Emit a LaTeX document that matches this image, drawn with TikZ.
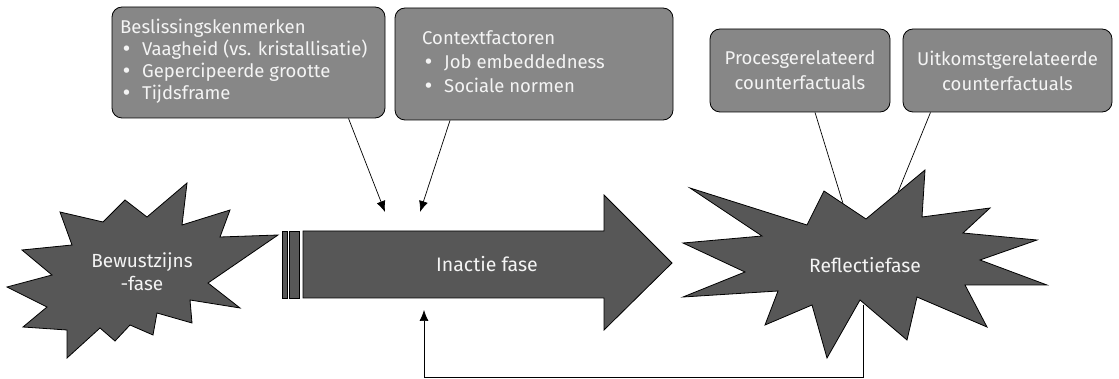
\documentclass[tikz,border=0pt]{standalone}
\usepackage{fontspec}
\setmainfont{Fira Sans}
\newfontfamily\dejavu{DejaVu Sans}
\usetikzlibrary{arrows.meta}
\definecolor{darkfill}{HTML}{575757}
\definecolor{boxgray}{HTML}{878787}
\definecolor{txt}{HTML}{F4F4F4}
\tikzset{
  starshape/.style={fill=darkfill, draw=black, line width=0.8pt, line join=miter},
  box/.style={draw=black, fill=boxgray, rounded corners=10pt, line width=0.8pt, inner sep=0pt},
  lbl/.style={text=txt, inner sep=0pt},
  conn/.style={line width=0.7pt},
  arr/.style={conn, -{Latex[length=11pt,width=9pt]}},
}
\newcommand{\bul}{\hspace*{1pt}\makebox[21pt][l]{\dejavu •}}
\begin{document}
\begin{tikzpicture}[x=1pt, y=-1pt, font=\fontsize{18.5}{22}\selectfont]
\useasboundingbox (0,0) rectangle (1119,379);

% boxes
\node[box, minimum width=273pt, minimum height=111pt] (bk) at (248.5,62.5) {};
\node[lbl, anchor=north west, align=left] (bkt) at (120,19)
  {Beslissingskenmerken\\
   \bul Vaagheid (vs. kristallisatie)\\
   \bul Gepercipeerde grootte\\
   \bul Tijdsframe};

\node[box, minimum width=278pt, minimum height=112pt] (cf) at (534,64) {};
\node[lbl, anchor=north west, align=left, font=\fontsize{18.5}{24}\selectfont] (cft) at (422,30)
  {Contextfactoren\\
   \bul Job embeddedness\\
   \bul Sociale normen};

\node[box, minimum width=180pt, minimum height=83pt] (pc) at (800,70.5) {};
\node[lbl, align=center, font=\fontsize{18.5}{25}\selectfont] (pct) at (800,70.5)
  {Procesgerelateerd\\counterfactuals};

\node[box, minimum width=209pt, minimum height=83pt] (uc) at (1007.5,70.5) {};
\node[lbl, align=center, font=\fontsize{18.5}{25}\selectfont] (uct) at (1007.5,70.5)
  {Uitkomstgerelateerde\\counterfactuals};

% connector end points
\coordinate (a1) at (385,212);
\coordinate (a2) at (420,212);
\coordinate (r1) at (843,203.5);
\coordinate (r2) at (898,192);
\coordinate (fb) at (863,305);
\coordinate (fl) at (424,310);

\draw[arr] ([xshift=100pt]bk.south) -- (a1);
\draw[arr] ([xshift=-84pt]cf.south) -- (a2);
\draw[conn] ([xshift=15pt]pc.south) -- (r1);
\draw[conn] ([xshift=-77pt]uc.south) -- (r2);

% left star
\path[starshape] (7,287) -- (52,275) -- (22,250) -- (72,245) -- (60,212) -- (103,222)
  -- (125,200) -- (147,217) -- (187,183) -- (182,225) -- (230,210) -- (220,237)
  -- (278,235) -- (208,283) -- (240,308) -- (190,300) -- (192,323) -- (157,313)
  -- (153,335) -- (130,325) -- (115,341) -- (100,328) -- (67,358) -- (67,330)
  -- (23,327) -- (47,307) -- cycle;
\node[lbl, align=center, font=\fontsize{19}{23}\selectfont] (bw) at (142,272) {Bewustzijns\\-fase};

% right star
\path[starshape] (690,188) -- (807,225) -- (824,191) -- (866,219) -- (925,170)
  -- (922,217) -- (990,208) -- (963,233) -- (1037,240) -- (980,260) -- (1047,285)
  -- (965,285) -- (987,327) -- (917,297) -- (907,340) -- (860,300) -- (827,358)
  -- (812,305) -- (765,325) -- (778,291) -- (683,297) -- (745,272) -- (683,243)
  -- (762,236) -- cycle;
\node[lbl, font=\fontsize{19.3}{23}\selectfont] (rf) at (865,265) {Reflectiefase};

% inactie arrow
\path[starshape] (282,231) rectangle (287,298);
\path[starshape] (289,231) rectangle (299,298);
\path[starshape] (303,231) -- (604,231) -- (604,195) -- (672,263) -- (604,330)
  -- (604,298) -- (303,298) -- cycle;
\node[lbl, font=\fontsize{19.5}{23}\selectfont] (in) at (487,264) {Inactie fase};

% feedback
\draw[arr] (fb) -- (863,377) -| (fl);
\end{tikzpicture}
\end{document}
